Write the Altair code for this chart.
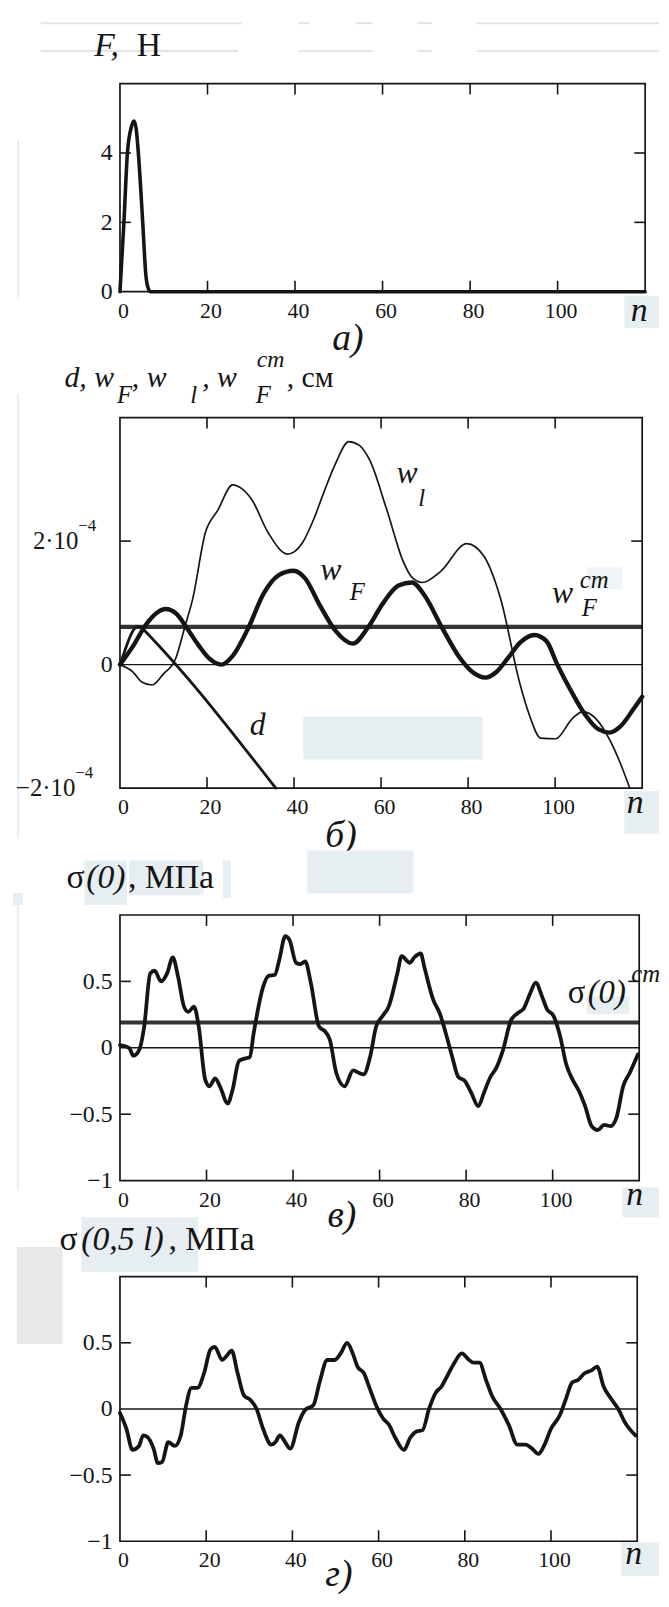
import altair as alt
import pandas as pd

FONT = "Liberation Serif"
INK = "#151515"
BLUE = "#e6eef2"
BLUE_LIGHT = "#eff4f6"
GRAY = "#e8e8e8"
FAINT = "#e4e4e4"

# ---------------- shared x (step number n) ----------------
N_DOMAIN = [0, 120]
N_LABELS = [0, 20, 40, 60, 80, 100]
N_INNER = [20, 40, 60, 80, 100]

# ---------------- panel а : force F, Н ----------------
A_DOMAIN = [0, 6]
A_LABELS = [0, 2, 4]
A_INNER = [2, 4]
F_n = [0, 0.9, 1.7, 2.6, 3.2, 3.7, 4.2, 5.2, 5.9, 6.5, 7.0, 120]
F_val = [0, 2.0, 4.0, 4.75, 4.92, 4.7, 4.0, 2.0, 0.5, 0.08, 0, 0]

# ---------------- panel б : d, w_F, w_l, w_F^cm (units of 1e-4 cm) ----------------
B_DOMAIN = [-2, 4]
B_LABELS = [-2, 0, 2]
B_INNER = [2]
wl_n = [0, 3, 5, 7.4, 10, 12.8, 14.9, 16.7, 19.6, 22.5, 25.9, 28, 30.3, 34.1, 38.5, 41.9,
        44.5, 46.8, 49.5, 52.6, 55, 57.4, 61.3, 65.2, 67, 69.5, 73.7, 79.7, 83.6, 87.5,
        91.8, 94, 96.7, 100.1, 104, 106.4, 109.3, 112.7, 115, 117.1]
wl_val = [0, -0.12, -0.28, -0.33, -0.15, 0.10, 0.61, 1.06, 2.13, 2.5, 2.91, 2.85, 2.67, 2.13,
          1.79, 1.97, 2.35, 2.78, 3.25, 3.61, 3.55, 3.31, 2.51, 1.65, 1.42, 1.33, 1.51, 1.96,
          1.76, 1.06, -0.28, -0.8, -1.19, -1.2, -0.87, -0.76, -0.87, -1.24, -1.6, -1.99]
wF_n = [0, 3, 6, 8.5, 10.5, 13, 15.2, 18, 20.5, 23.3, 26, 29.6, 33, 36.5, 39.9, 42.5, 46,
        49.5, 53.5, 57, 60.5, 64, 67.1, 70, 74, 78, 81, 84, 86.5, 89.1, 92, 95.2, 98, 100.5,
        104, 107, 110, 112.5, 115, 118, 120]
wF_val = [0, 0.3, 0.65, 0.84, 0.9, 0.82, 0.61, 0.32, 0.1, 0.0, 0.15, 0.61, 1.15, 1.45, 1.52,
          1.40, 0.95, 0.55, 0.34, 0.60, 1.0, 1.28, 1.33, 1.12, 0.6, 0.12, -0.12, -0.21, -0.12,
          0.1, 0.36, 0.48, 0.38, 0.0, -0.47, -0.82, -1.05, -1.1, -1.0, -0.72, -0.52]
d_n = [0, 1, 2, 3, 4.2, 5.5, 7, 35.8]
d_val = [0, 0.2, 0.4, 0.55, 0.62, 0.56, 0.45, -2.0]
WF_CM = 0.61

# ---------------- panel в : sigma(0), MPa ----------------
C_DOMAIN = [-1, 1]
C_LABELS = [-1, -0.5, 0, 0.5]
C_INNER = [0.5, -0.5]
s0_n = [0, 2.1, 3.1, 4.4, 5.6, 7.0, 8.0, 9.5, 10.9, 12.2, 13.4, 14.8, 15.8, 17.1, 18.2, 19.7,
        20.7, 22.0, 23.1, 24.9, 26.0, 27.5, 29.0, 30.0, 30.9, 33.1, 34.3, 35.8, 36.8, 38.2,
        39.2, 40.7, 41.7, 42.8, 44.1, 46.0, 47.5, 48.5, 50.0, 51.9, 53.9, 55.3, 56.3, 57.8,
        59.2, 60.7, 62.1, 64.1, 65.1, 67.0, 68.0, 69.5, 70.4, 72.4, 73.9, 75.3, 76.8, 78.2,
        79.7, 81.2, 82.8, 84.1, 85.6, 87.0, 88.5, 90.4, 91.9, 93.4, 94.8, 96.1, 97.5, 98.7,
        100.2, 101.7, 103.1, 104.6, 106.0, 107.5, 109.0, 110.4, 111.9, 113.4, 114.8, 116.3,
        117.8, 119.7]
s0_val = [0.02, 0.0, -0.06, -0.02, 0.16, 0.56, 0.58, 0.50, 0.56, 0.68, 0.54, 0.31, 0.27, 0.31,
          0.16, -0.24, -0.29, -0.23, -0.29, -0.42, -0.32, -0.10, -0.08, -0.07, 0.11, 0.46, 0.54,
          0.55, 0.66, 0.84, 0.81, 0.64, 0.63, 0.65, 0.49, 0.16, 0.12, 0.06, -0.19, -0.29, -0.17,
          -0.19, -0.20, -0.07, 0.16, 0.24, 0.31, 0.56, 0.69, 0.64, 0.68, 0.71, 0.60, 0.36, 0.26,
          0.11, -0.07, -0.22, -0.25, -0.34, -0.44, -0.34, -0.22, -0.15, -0.02, 0.21, 0.26, 0.30,
          0.41, 0.49, 0.39, 0.29, 0.24, 0.09, -0.12, -0.24, -0.32, -0.44, -0.59, -0.62, -0.58,
          -0.59, -0.52, -0.29, -0.19, -0.05]
S0_CM = 0.19

# ---------------- panel г : sigma(0,5 l), MPa ----------------
D_DOMAIN = [-1, 1]
D_LABELS = [-1, -0.5, 0, 0.5]
D_INNER = [0.5, -0.5]
s5_n = [0, 1.5, 2.9, 4.4, 5.4, 6.3, 7.8, 8.8, 9.8, 11.2, 12.7, 14.1, 15.3, 16.6, 18, 19.5, 21,
        22, 23.7, 24.7, 25.9, 27.3, 28.8, 30.2, 31.7, 33.2, 35.1, 36.1, 37.1, 38.3, 39.5, 41.5,
        42.9, 44.9, 46.3, 48.1, 49.8, 51.2, 52.7, 54, 55.1, 56.6, 58, 59.5, 61, 62.4, 63.9,
        65.9, 67.3, 68.8, 70.2, 71.7, 73.2, 74.6, 76.1, 77.6, 79.3, 81, 82, 83.4, 84.9, 86.3,
        88.3, 90.2, 92.2, 94.1, 95.6, 97.1, 98.5, 100, 102, 103.4, 104.9, 106.3, 107.8, 109.3,
        110.7, 112.2, 114.1, 115.6, 117.1, 119.6]
s5_val = [-0.03, -0.15, -0.31, -0.28, -0.2, -0.21, -0.30, -0.41, -0.40, -0.25, -0.28, -0.20,
          0.02, 0.16, 0.16, 0.27, 0.45, 0.47, 0.37, 0.40, 0.44, 0.27, 0.10, 0.07, 0.0, -0.15,
          -0.27, -0.25, -0.2, -0.25, -0.30, -0.1, -0.01, 0.03, 0.2, 0.37, 0.37, 0.42, 0.50, 0.42,
          0.32, 0.27, 0.15, 0.02, -0.07, -0.12, -0.22, -0.31, -0.22, -0.17, -0.16, 0.0, 0.12,
          0.17, 0.26, 0.35, 0.42, 0.37, 0.35, 0.35, 0.22, 0.10, 0.0, -0.12, -0.27, -0.27, -0.30,
          -0.34, -0.27, -0.15, -0.05, 0.07, 0.2, 0.22, 0.27, 0.29, 0.32, 0.17, 0.07, 0.0, -0.1,
          -0.2]

ZERO = 0


# ---------------- helpers ----------------
def X(field="n"):
    return alt.X(f"{field}:Q",
                 scale=alt.Scale(domain=N_DOMAIN, nice=False, zero=False),
                 axis=alt.Axis(values=N_LABELS, title=None, grid=False, ticks=False, tickSize=0,
                               domain=False, labelFont=FONT, labelFontSize=22, labelColor=INK,
                               labelPadding=9, labelOffset=3, labelFlush=False,
                               labelOverlap=False))


def Y(dom, vals, expr, field="v"):
    return alt.Y(f"{field}:Q",
                 scale=alt.Scale(domain=dom, nice=False, zero=False),
                 axis=alt.Axis(values=vals, title=None, grid=False, ticks=False, tickSize=0,
                               domain=False, labelFont=FONT, labelFontSize=24, labelColor=INK,
                               labelPadding=8, labelFlush=False, labelOverlap=False,
                               labelExpr=expr))


def panel(w, h, dom, vals, expr, inner, series, hlines, rects, rules, texts):
    y = lambda f="v": Y(dom, vals, expr, f)
    layers = []
    for (n1, n2, v1, v2, col) in rects:
        df = pd.DataFrame({"n": [n1], "n2": [n2], "v": [v1], "v2": [v2]})
        layers.append(alt.Chart(df).mark_rect(color=col).encode(
            x=X(), x2=alt.X2("n2"), y=y(), y2=alt.Y2("v2")))
    for (n1, n2, v1, v2, col, sw) in rules:
        df = pd.DataFrame({"n": [n1], "n2": [n2], "v": [v1], "v2": [v2]})
        layers.append(alt.Chart(df).mark_rule(color=col, strokeWidth=sw).encode(
            x=X(), x2=alt.X2("n2"), y=y(), y2=alt.Y2("v2")))
    for (val, sw, col) in hlines:
        df = pd.DataFrame({"n": [N_DOMAIN[0]], "n2": [N_DOMAIN[1]], "v": [val]})
        layers.append(alt.Chart(df).mark_rule(color=col, strokeWidth=sw).encode(
            x=X(), x2=alt.X2("n2"), y=y()))
    for (ns, vs, sw) in series:
        df = pd.DataFrame({"n": ns, "v": vs})
        layers.append(alt.Chart(df).mark_line(
            interpolate="monotone", strokeWidth=sw, color=INK,
            strokeJoin="round", strokeCap="round").encode(x=X(), y=y()))
    frame = pd.DataFrame({"k": [0]})
    layers.append(alt.Chart(frame).mark_rect(fillOpacity=0, stroke=INK, strokeWidth=1.7).encode(
        x=alt.value(0), x2=alt.value(w), y=alt.value(0), y2=alt.value(h)))
    xt = pd.DataFrame({"n": N_INNER})
    layers.append(alt.Chart(xt).mark_rule(color=INK, strokeWidth=1.6).encode(
        x=X(), y=alt.value(h), y2=alt.value(h - 11)))
    layers.append(alt.Chart(xt).mark_rule(color=INK, strokeWidth=1.6).encode(
        x=X(), y=alt.value(0), y2=alt.value(11)))
    yt = pd.DataFrame({"v": inner})
    layers.append(alt.Chart(yt).mark_rule(color=INK, strokeWidth=1.6).encode(
        y=y(), x=alt.value(0), x2=alt.value(11)))
    layers.append(alt.Chart(yt).mark_rule(color=INK, strokeWidth=1.6).encode(
        y=y(), x=alt.value(w), x2=alt.value(w - 11)))
    for (t, n, v, size, italic, align) in texts:
        df = pd.DataFrame({"n": [n], "v": [v], "t": [t]})
        layers.append(alt.Chart(df).mark_text(
            font=FONT, fontSize=size, fontStyle="italic" if italic else "normal",
            align=align, baseline="alphabetic", color=INK).encode(
            x=X(), y=y(), text="t:N"))
    return alt.layer(*layers).properties(width=w, height=h)


def spacer(g):
    df = pd.DataFrame({"k": [0]})
    return alt.Chart(df).mark_rule(opacity=0).encode(
        x=alt.value(0), y=alt.value(0), y2=alt.value(1)).properties(width=10, height=g)


# ---------------- panels ----------------
pa = panel(
    530, 210, A_DOMAIN, A_LABELS, "datum.label", A_INNER,
    series=[(F_n, F_val, 3.6)],
    hlines=[],
    rects=[(115.25, 123.17, -0.114, -1.057, BLUE)],
    rules=[(-18.11, 27.85, 7.743, 7.743, FAINT, 2), (40.75, 43.25, 7.743, 7.743, FAINT, 2),
           (53.89, 57.74, 7.743, 7.743, FAINT, 2), (67.92, 71.32, 7.743, 7.743, FAINT, 2),
           (81.51, 123.17, 7.743, 7.743, FAINT, 2),
           (-18.11, 27.0, 6.943, 6.943, FAINT, 2), (40.75, 57.74, 6.943, 6.943, FAINT, 2),
           (67.92, 71.32, 6.943, 6.943, FAINT, 2), (81.51, 123.17, 6.943, 6.943, FAINT, 2),
           (-23.32, -23.32, 4.37, -0.2, "#ececec", 2)],
    texts=[("F,", -5.89, 6.8, 34, True, "left"),
           ("Н", 3.85, 6.8, 34, False, "left"),
           ("а)", 52.08, -1.686, 38, True, "center"),
           ("n", 118.64, -0.83, 34, True, "center")])

# y labels of panel б: "0" through the axis, the powers of ten as text with raised exponents
B_EXPR = "datum.value == 0 ? '0' : ''"
pb = panel(
    527, 374, B_DOMAIN, B_LABELS, B_EXPR, B_INNER,
    series=[(wl_n, wl_val, 1.7), (d_n, d_val, 2.8), (wF_n, wF_val, 4.4)],
    hlines=[(ZERO, 1.4, INK), (WF_CM, 4.2, "#333333")],
    rects=[(42.12, 83.34, -0.845, -1.535, BLUE), (115.9, 123.87, -2.048, -2.738, BLUE),
           (107.25, 115.45, 1.578, 1.225, BLUE_LIGHT)],
    rules=[(-23.45, -23.45, 4.385, -2.818, "#ececec", 2)],
    texts=[("2·10", -9.56, 1.87, 25, False, "right"),
           ("−4", -9.56, 2.16, 17, False, "left"),
           ("−2·10", -10.25, -2.13, 25, False, "right"),
           ("−4", -10.25, -1.84, 17, False, "left"),
           ("d, w", -12.75, 4.497, 30, True, "left"),
           ("F", -0.68, 4.24, 25, True, "left"),
           (", w", 2.73, 4.497, 30, True, "left"),
           ("l", 16.17, 4.24, 25, True, "left"),
           (", w", 18.9, 4.497, 30, True, "left"),
           ("cm", 31.42, 4.818, 24, True, "left"),
           ("F", 31.2, 4.24, 25, True, "left"),
           (", см", 38.3, 4.497, 30, False, "left"),
           ("w", 63.53, 2.941, 32, True, "left"),
           ("l", 68.54, 2.572, 25, True, "left"),
           ("w", 46.0, 1.369, 32, True, "left"),
           ("F", 52.83, 1.048, 25, True, "left"),
           ("w", 99.28, 1.0, 32, True, "left"),
           ("cm", 105.65, 1.241, 25, True, "left"),
           ("F", 106.1, 0.791, 25, True, "left"),
           ("d", 29.83, -1.134, 32, True, "left"),
           ("б)", 50.78, -2.946, 38, True, "center"),
           ("n", 118.4, -2.401, 34, True, "center")])

S_EXPR = ("datum.value == 0 ? '0' : datum.value == 0.5 ? '0.5' : "
          "datum.value == -0.5 ? '−0.5' : '−1'")
pc = panel(
    524, 268, C_DOMAIN, C_LABELS, S_EXPR, C_INNER,
    series=[(s0_n, s0_val, 3.8)],
    hlines=[(ZERO, 1.4, INK), (S0_CM, 4.2, "#333333")],
    rects=[(-8.24, 1.6, 1.41, 1.075, BLUE), (2.06, 19.24, 1.41, 1.149, BLUE),
           (23.8, 25.65, 1.41, 1.127, BLUE), (43.28, 67.79, 1.485, 1.164, BLUE),
           (107.86, 117.71, 0.388, 0.254, BLUE), (116.1, 124.58, -1.052, -1.276, BLUE),
           (-24.73, -22.44, 1.164, 1.075, BLUE)],
    rules=[(-23.59, -23.59, 1.075, -1.075, "#ececec", 2)],
    texts=[("σ", -12.37, 1.2015, 34, False, "left"),
           ("(0)", -7.79, 1.2015, 34, True, "left"),
           (", МПа", 1.83, 1.2015, 34, False, "left"),
           ("σ", 103.5, 0.336, 33, False, "left"),
           ("(0)", 108.1, 0.336, 33, True, "left"),
           ("cm", 118.17, 0.493, 25, True, "left"),
           ("в)", 51.3, -1.351, 38, True, "center"),
           ("n", 118.97, -1.187, 34, True, "center")])

pd_ = panel(
    522, 267, D_DOMAIN, D_LABELS, S_EXPR, D_INNER,
    series=[(s5_n, s5_val, 3.8)],
    hlines=[(ZERO, 1.4, INK)],
    rects=[(-8.97, 18.16, 1.449, 1.037, BLUE), (-23.91, -13.33, 1.225, 0.491, GRAY),
           (116.3, 125.06, -1.007, -1.262, BLUE)],
    rules=[],
    texts=[("σ", -14.02, 1.2022, 34, False, "left"),
           ("(0,5 l)", -8.97, 1.2022, 34, True, "left"),
           (", МПа", 11.26, 1.2022, 34, False, "left"),
           ("г)", 50.8, -1.337, 38, True, "center"),
           ("n", 119.2, -1.172, 34, True, "center")])

chart = alt.vconcat(
    pa, spacer(127), pb, spacer(128), pc, spacer(97), pd_,
    spacing=0, bounds="flush"
).properties(
    padding={"left": 4, "top": 6, "right": 0, "bottom": 0},
    background="white"
).configure_view(
    stroke="transparent"
).configure_axis(
    labelFont=FONT, labelColor=INK
).configure_axisX(
    labelFontSize=22
).configure_axisY(
    labelFontSize=24
)

chart.save("out.html", embed_options={"renderer": "svg", "actions": False})
